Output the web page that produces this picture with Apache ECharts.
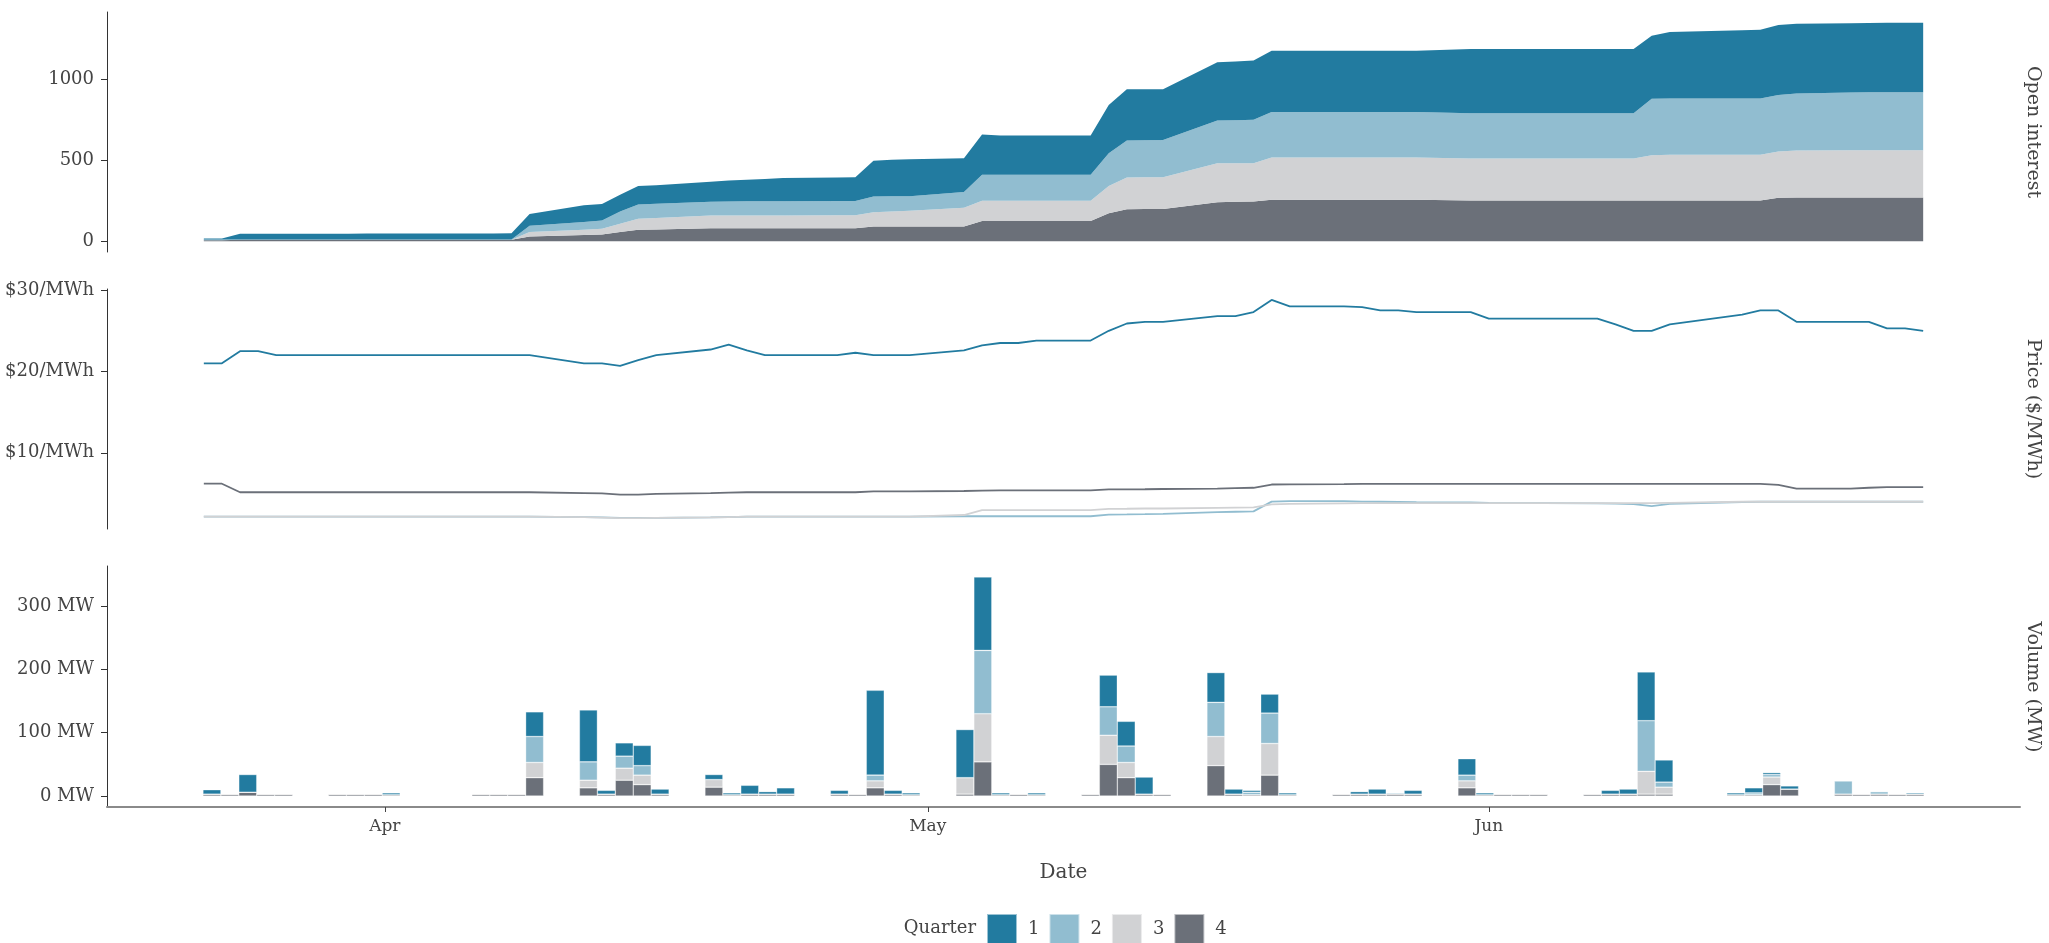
<!DOCTYPE html>
<html lang="en">
<head>
<meta charset="utf-8">
<style>
  html, body { margin: 0; padding: 0; background: #fff; }
  #chart { width: 2049px; height: 943px; }
</style>
</head>
<body>
<div id="chart"></div>
<script src="https://cdn.jsdelivr.net/npm/echarts@6.0.0/dist/echarts.min.js"></script>
<script>
// trading days (no Easter, no Queen's birthday)
var dates = [
  '2021-03-22','2021-03-23','2021-03-24','2021-03-25','2021-03-26','2021-03-29','2021-03-30','2021-03-31',
  '2021-04-01','2021-04-06','2021-04-07','2021-04-08','2021-04-09','2021-04-12','2021-04-13','2021-04-14',
  '2021-04-15','2021-04-16','2021-04-19','2021-04-20','2021-04-21','2021-04-22','2021-04-23','2021-04-26',
  '2021-04-27','2021-04-28','2021-04-29','2021-04-30','2021-05-03','2021-05-04','2021-05-05','2021-05-06',
  '2021-05-07','2021-05-10','2021-05-11','2021-05-12','2021-05-13','2021-05-14','2021-05-17','2021-05-18',
  '2021-05-19','2021-05-20','2021-05-21','2021-05-24','2021-05-25','2021-05-26','2021-05-27','2021-05-28',
  '2021-05-31','2021-06-01','2021-06-02','2021-06-03','2021-06-04','2021-06-07','2021-06-08','2021-06-09',
  '2021-06-10','2021-06-11','2021-06-15','2021-06-16','2021-06-17','2021-06-18','2021-06-21','2021-06-22',
  '2021-06-23','2021-06-24','2021-06-25'
];
var quarters = ['1', '2', '3', '4'];
var quarterColors = ['#227ba0', '#91bdd0', '#d1d2d4', '#6b7079'];

// open interest per quarter (layer values)
var oiQ1 = [6,6,35,35,35,36,36,37, 37,38,38,39,72,103,103,103, 115,114,123,129,133,138,143,145,
  146,222,225,228,208,248,242,242, 242,242,298,317,315,313,360,363, 366,377,377,377,377,377,377,377,
  397,397,397,397,397,397,397,397, 389,411,421,424,432,430,428,428, 428,428,428];
var oiQ2 = [4,4,2,2,2,2,2,2, 2,2,2,2,39,48,51,75, 88,88,86,86,87,87,88,88,
  88,97,94,91,97,161,161,161, 161,161,202,228,229,230,264,266, 268,282,282,282,282,282,282,282,
  280,280,280,280,280,280,280,280, 348,348,348,348,348,352,356,357, 358,358,358];
var oiQ3 = [0,0,0,0,0,0,0,0, 0,0,0,0,27,33,35,52, 68,71,78,79,79,79,79,80,
  80,88,93,97,117,124,124,124, 124,124,168,196,196,196,241,238, 236,261,261,261,261,261,261,261,
  259,259,259,259,259,259,259,259, 280,282,282,282,286,290,292,292, 292,292,292];
var oiQ4 = [6,6,8,8,8,8,8,8, 8,8,8,8,29,38,41,56, 70,72,80,80,80,80,80,80,
  80,90,90,90,90,125,125,125, 125,125,173,197,198,199,240,243, 245,255,255,255,255,255,255,255,
  251,251,251,251,251,251,251,251, 251,251,251,251,268,270,270,270, 270,270,270];

// settlement price per quarter ($/MWh)
var priceQ1 = [21.0,21.0,22.5,22.5,22.0,22.0,22.0,22.0, 22.0,22.0,22.0,22.0,22.0,21.0,21.0,20.7,
  21.4,22.0,22.7,23.3,22.6,22.0,22.0,22.0, 22.3,22.0,22.0,22.0,22.6,23.2,23.5,23.5,
  23.8,23.8,25.0,25.9,26.1,26.1,26.8,26.8, 27.3,28.8,28.0,28.0,27.9,27.5,27.5,27.3,
  27.3,26.5,26.5,26.5,26.5,26.5,25.8,25.0, 25.0,25.8,27.0,27.5,27.5,26.1,26.1,26.1,
  25.3,25.3,25.0];
var priceQ2 = [2.15,2.15,2.15,2.15,2.15,2.15,2.15,2.15, 2.15,2.15,2.15,2.15,2.15,2.1,2.05,2.0,
  2.0,2.0,2.05,2.1,2.15,2.15,2.15,2.15, 2.15,2.15,2.15,2.15,2.2,2.2,2.2,2.2,
  2.2,2.2,2.4,2.42,2.45,2.5,2.7,2.75, 2.8,4.0,4.05,4.05,4.0,3.98,3.95,3.92,
  3.9,3.85,3.82,3.8,3.8,3.78,3.75,3.7, 3.45,3.72,3.95,3.98,3.98,3.98,3.98,3.98,
  3.98,3.98,3.98];
var priceQ3 = [2.15,2.15,2.15,2.15,2.15,2.15,2.15,2.15, 2.15,2.15,2.15,2.15,2.15,2.08,2.03,1.97,
  1.97,2.0,2.05,2.1,2.15,2.15,2.15,2.15, 2.15,2.15,2.15,2.15,2.35,2.95,2.95,2.95,
  2.95,2.95,3.1,3.12,3.15,3.15,3.22,3.25, 3.28,3.65,3.72,3.78,3.8,3.82,3.82,3.82,
  3.82,3.82,3.82,3.82,3.82,3.82,3.82,3.82, 3.82,3.85,3.98,3.98,3.98,3.98,3.98,3.98,
  3.98,3.98,3.98];
var priceQ4 = [6.2,6.2,5.15,5.15,5.15,5.15,5.15,5.15, 5.15,5.15,5.15,5.15,5.15,5.05,5.0,4.85,
  4.85,4.95,5.05,5.1,5.15,5.15,5.15,5.15, 5.15,5.25,5.25,5.25,5.3,5.35,5.37,5.37,
  5.37,5.37,5.49,5.5,5.52,5.55,5.6,5.65, 5.7,6.1,6.12,6.15,6.19,6.19,6.19,6.19,
  6.19,6.19,6.19,6.19,6.19,6.19,6.19,6.19, 6.19,6.19,6.19,6.19,6.05,5.6,5.6,5.7,
  5.78,5.78,5.78];

// traded volume per quarter (MW)
var volQ1 = [7,0,28,0,0,0,0,0, 3,0,0,0,39,82,6,21, 32,8,8,3,14,4,10,6,
  0,134,6,3,76,116,3,0, 3,0,50,39,27,0,47,8, 3,30,3,0,4,8,0,6,
  26,3,0,0,0,0,6,8, 77,35,3,8,3,5,0,0, 0,0,2];
var volQ2 = [0,0,0,0,0,0,0,0, 0,0,0,0,41,29,0,19, 15,0,0,0,0,0,0,0,
  0,9,0,0,0,100,0,0, 0,0,45,26,0,0,54,0, 4,48,0,0,0,0,2,0,
  9,0,0,0,0,0,0,0, 80,8,0,3,4,0,21,0, 4,0,0];
var volQ3 = [0,0,0,0,0,0,0,0, 0,0,0,0,24,12,0,19, 15,0,12,0,0,0,0,0,
  0,11,0,0,26,76,0,0, 0,0,46,24,0,0,46,0, 0,50,0,0,0,0,0,0,
  11,0,0,0,0,0,0,0, 36,11,0,0,12,0,0,0, 0,0,0];
var volQ4 = [3,3,6,3,3,3,3,3, 2,3,3,3,29,13,3,25, 18,3,14,2,3,3,3,3,
  3,13,3,2,3,54,2,3, 2,3,50,29,3,3,48,3, 2,33,2,3,3,3,3,3,
  13,2,3,3,3,3,3,3, 3,3,2,2,18,11,3,3, 3,3,3];

var monthTicks = ['2021-04-01', '2021-05-01', '2021-06-01'];
var monthLabels = ['Apr', 'May', 'Jun'];
var oiTicks = [0, 500, 1000];
var priceTicks = [10, 20, 30];
var volTicks = [0, 100, 200, 300];

var DAY = 86400000;
function toTime(s) {
  var p = s.split('-');
  return new Date(+p[0], +p[1] - 1, +p[2]).getTime();
}
var times = dates.map(toTime);
var tickTimes = monthTicks.map(toTime);
var xMin = times[0] - 5.35 * DAY;
var xMax = times[times.length - 1] + 5.35 * DAY;

function pairs(vals) {
  return vals.map(function (v, i) { return [times[i], v]; });
}

var FONT = 'DejaVu Serif';
var TXT = '#444';

// data sits on hidden time axes (stacking needs a time/category base axis)
function timeAxis(idx) {
  return { type: 'time', gridIndex: idx, min: xMin, max: xMax, show: false };
}
// extra value axis on the bottom panel only for the visible month ticks
var dateAxis = {
  type: 'value', gridIndex: 2, min: xMin, max: xMax, position: 'bottom',
  axisLine: { show: true, onZero: false, lineStyle: { color: '#8a8a8a', width: 2 } },
  axisTick: { show: true, customValues: tickTimes, length: 5, lineStyle: { color: '#444' } },
  axisLabel: {
    customValues: tickTimes, margin: 11, fontSize: 17, color: TXT, fontFamily: FONT,
    formatter: function (v) {
      for (var i = 0; i < tickTimes.length; i++) {
        if (Math.abs(tickTimes[i] - v) < DAY / 2) return monthLabels[i];
      }
      return '';
    }
  },
  splitLine: { show: false },
  name: 'Date', nameLocation: 'middle', nameGap: 56,
  nameTextStyle: { fontSize: 20, color: TXT, fontFamily: FONT }
};

function yAxisFor(idx, min, max, ticks, fmt) {
  return {
    type: 'value', gridIndex: idx, min: min, max: max,
    axisLine: { show: true, lineStyle: { color: '#333', width: 1 } },
    axisTick: { show: true, customValues: ticks, length: 6, lineStyle: { color: '#333' } },
    axisLabel: { customValues: ticks, margin: 13, fontSize: 18, color: TXT, fontFamily: FONT, formatter: fmt },
    splitLine: { show: false }
  };
}

var oiSets = [oiQ1, oiQ2, oiQ3, oiQ4];
var priceSets = [priceQ1, priceQ2, priceQ3, priceQ4];
var volSets = [volQ1, volQ2, volQ3, volQ4];

var series = [];
// bars first so the legend takes square swatches from them; stacked bottom-up Q4..Q1
[3, 2, 1, 0].forEach(function (q) {
  series.push({
    name: quarters[q], type: 'bar', xAxisIndex: 2, yAxisIndex: 2, stack: 'vol',
    barWidth: 18, color: quarterColors[q],
    itemStyle: { color: quarterColors[q], borderColor: 'rgba(255,255,255,0.55)', borderWidth: 0.6 },
    data: pairs(volSets[q])
  });
});
[3, 2, 1, 0].forEach(function (q) {
  series.push({
    name: quarters[q], type: 'line', xAxisIndex: 0, yAxisIndex: 0, stack: 'oi',
    symbol: 'none', color: quarterColors[q],
    lineStyle: { width: 0 },
    areaStyle: { color: quarterColors[q], opacity: 1 },
    data: pairs(oiSets[q])
  });
});
[0, 1, 2, 3].forEach(function (q) {
  series.push({
    name: quarters[q], type: 'line', xAxisIndex: 1, yAxisIndex: 1,
    symbol: 'none', color: quarterColors[q],
    lineStyle: { width: 1.8, color: quarterColors[q] },
    data: pairs(priceSets[q])
  });
});

function stripLabel(text, y) {
  return {
    type: 'text', x: 2033, y: y, rotation: -Math.PI / 2,
    style: { text: text, fontSize: 19, fill: TXT, fontFamily: FONT, align: 'center', verticalAlign: 'middle' }
  };
}

var chart = echarts.init(document.getElementById('chart'));
chart.setOption({
  animation: false,
  backgroundColor: '#fff',
  grid: [
    { left: 107, right: 29, top: 12, height: 240 },
    { left: 107, right: 29, top: 289, height: 240 },
    { left: 107, right: 29, top: 566, height: 241 }
  ],
  xAxis: [timeAxis(0), timeAxis(1), timeAxis(2), dateAxis],
  yAxis: [
    yAxisFor(0, -67, 1415, oiTicks, function (v) { return String(v); }),
    yAxisFor(1, 0.63, 30.14, priceTicks, function (v) { return '$' + v + '/MWh'; }),
    yAxisFor(2, -17.3, 363.3, volTicks, function (v) { return v + ' MW'; })
  ],
  legend: {
    data: quarters, left: 986, top: 913, padding: 0, icon: 'rect', itemWidth: 30, itemHeight: 30, itemGap: 9,
    textStyle: { fontSize: 18, color: TXT, fontFamily: FONT, padding: [0, 0, 0, 6] }
  },
  graphic: [
    { type: 'text', x: 976, y: 928,
      style: { text: 'Quarter', fontSize: 18, fill: TXT, fontFamily: FONT, align: 'right', verticalAlign: 'middle' } },
    stripLabel('Open interest', 132),
    stripLabel('Price ($/MWh)', 409),
    stripLabel('Volume (MW)', 687)
  ],
  series: series
});
</script>
</body>
</html>
